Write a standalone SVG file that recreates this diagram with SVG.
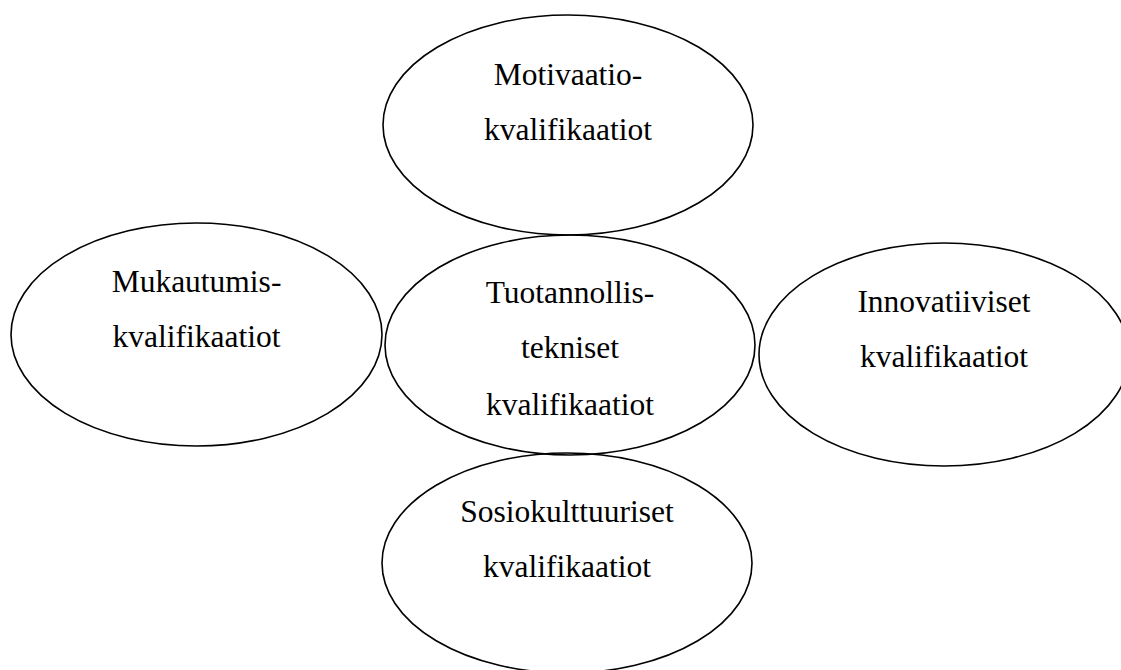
<svg xmlns="http://www.w3.org/2000/svg" width="1121" height="670" viewBox="0 0 1121 670">
<style>
.n{fill:none;stroke:#000;stroke-width:1.6}
</style>
<rect width="1121" height="670" fill="#fff"/>
<g id="connectors"></g>
<g font-family="Liberation Serif, Times New Roman, DejaVu Serif, serif" font-size="31.5" fill="#000" text-anchor="middle">
<g id="motivaatio">
<ellipse class="n" cx="568" cy="125" rx="185" ry="110"/>
<text x="568" y="85">Motivaatio-</text>
<text x="568" y="140">kvalifikaatiot</text>
</g>
<g id="mukautumis">
<ellipse class="n" cx="196.5" cy="334.5" rx="185.5" ry="111.5"/>
<text x="196.5" y="292">Mukautumis-</text>
<text x="196.5" y="347">kvalifikaatiot</text>
</g>
<g id="tuotannollis">
<ellipse class="n" cx="570" cy="345" rx="185" ry="110"/>
<text x="570" y="303">Tuotannollis-</text>
<text x="570" y="358">tekniset</text>
<text x="570" y="415">kvalifikaatiot</text>
</g>
<g id="innovatiiviset">
<ellipse class="n" cx="944" cy="354.5" rx="185" ry="111.5"/>
<text x="944" y="312">Innovatiiviset</text>
<text x="944" y="367">kvalifikaatiot</text>
</g>
<g id="sosiokulttuuriset">
<ellipse class="n" cx="567" cy="563" rx="185" ry="110"/>
<text x="567" y="522">Sosiokulttuuriset</text>
<text x="567" y="577">kvalifikaatiot</text>
</g>
</g>
</svg>
